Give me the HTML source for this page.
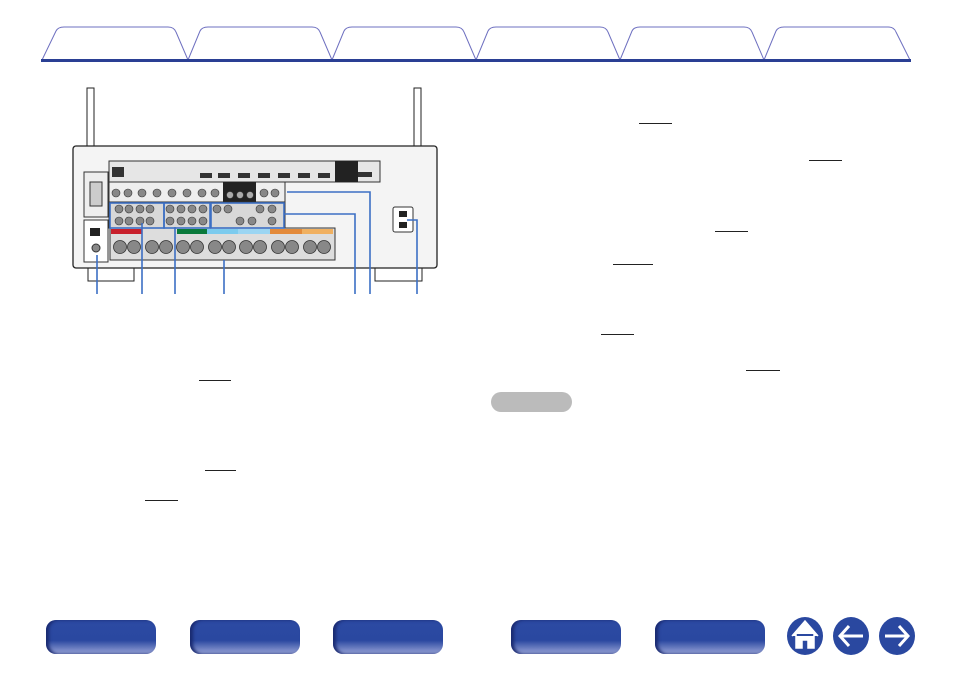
<!DOCTYPE html>
<html><head><meta charset="utf-8"><style>
html,body{margin:0;padding:0;background:#fff;width:954px;height:673px;overflow:hidden;font-family:"Liberation Sans",sans-serif}
.u{position:absolute;height:1px;background:#222}
.b{position:absolute;top:620px;height:34px;border-radius:10px;background:linear-gradient(#2c4aa3,#2a48a0 60%,#9aa5d8);box-shadow:inset 3px 0 3px #1a2a70}
</style></head><body>
<svg width="954" height="673" style="position:absolute;left:0;top:0">
<g fill="none" stroke="#6e70c0" stroke-width="1">
<path d="M42 60 L56 31 Q58 27 64 27 L168 27 Q174 27 176 32 L188 60"/>
<path d="M188 60 L200 31 Q202 27 208 27 L312 27 Q318 27 320 32 L332 60"/>
<path d="M332 60 L344 31 Q346 27 352 27 L456 27 Q462 27 464 32 L476 60"/>
<path d="M476 60 L488 31 Q490 27 496 27 L600 27 Q606 27 608 32 L620 60"/>
<path d="M620 60 L632 31 Q634 27 640 27 L744 27 Q750 27 752 32 L764 60"/>
<path d="M764 60 L776 31 Q778 27 784 27 L888 27 Q894 27 896 32 L910 60"/>
</g>
<rect x="41" y="59" width="870" height="3" fill="#2a3f94"/>
<rect x="87" y="88" width="7" height="74" fill="#fff" stroke="#222"/>
<rect x="87" y="150" width="7" height="12" fill="#555"/>
<rect x="414" y="88" width="7" height="74" fill="#fff" stroke="#222"/>
<rect x="414" y="150" width="7" height="12" fill="#555"/>
<rect x="88" y="268" width="46" height="13" fill="#fff" stroke="#222"/>
<rect x="375" y="268" width="47" height="13" fill="#fff" stroke="#222"/>
<rect x="73" y="146" width="364" height="122" rx="3" fill="#f4f4f4" stroke="#222" stroke-width="1.3"/>
<rect x="109" y="161" width="271" height="21" fill="#e6e6e6" stroke="#333"/>
<g fill="#333">
<rect x="200" y="173" width="12" height="5"/><rect x="218" y="173" width="12" height="5"/><rect x="238" y="173" width="12" height="5"/>
<rect x="258" y="173" width="12" height="5"/><rect x="278" y="173" width="12" height="5"/><rect x="298" y="173" width="12" height="5"/><rect x="318" y="173" width="12" height="5"/>
<rect x="112" y="167" width="12" height="10"/><rect x="358" y="172" width="14" height="5"/>
</g>
<rect x="335" y="161" width="23" height="21" fill="#222"/>
<rect x="109" y="182" width="176" height="20" fill="#eee" stroke="#333"/>
<rect x="223" y="182" width="33" height="20" fill="#222"/>
<rect x="109" y="202" width="176" height="26" fill="#d8d8d8" stroke="#333"/>
<rect x="110" y="228" width="225" height="32" fill="#ddd" stroke="#333"/>
<rect x="111" y="229" width="31" height="5" fill="#c8202c"/>
<rect x="177" y="229" width="30" height="5" fill="#0a7a3c"/>
<rect x="207" y="229" width="31" height="5" fill="#7ccbee"/>
<rect x="238" y="229" width="32" height="5" fill="#9bd5f2"/>
<rect x="270" y="229" width="32" height="5" fill="#e38a3a"/>
<rect x="302" y="229" width="31" height="5" fill="#f0b060"/>
<g fill="#888" stroke="#333" stroke-width="0.8">
<circle cx="120" cy="247" r="6.5"/><circle cx="134" cy="247" r="6.5"/><circle cx="152" cy="247" r="6.5"/><circle cx="166" cy="247" r="6.5"/>
<circle cx="183" cy="247" r="6.5"/><circle cx="197" cy="247" r="6.5"/><circle cx="215" cy="247" r="6.5"/><circle cx="229" cy="247" r="6.5"/>
<circle cx="246" cy="247" r="6.5"/><circle cx="260" cy="247" r="6.5"/><circle cx="278" cy="247" r="6.5"/><circle cx="292" cy="247" r="6.5"/>
<circle cx="310" cy="247" r="6.5"/><circle cx="324" cy="247" r="6.5"/>
</g>
<g fill="#888" stroke="#333" stroke-width="0.6">
<circle cx="119" cy="209" r="4"/><circle cx="129" cy="209" r="4"/><circle cx="140" cy="209" r="4"/><circle cx="150" cy="209" r="4"/>
<circle cx="119" cy="221" r="4"/><circle cx="129" cy="221" r="4"/><circle cx="140" cy="221" r="4"/><circle cx="150" cy="221" r="4"/>
<circle cx="170" cy="209" r="4"/><circle cx="181" cy="209" r="4"/><circle cx="192" cy="209" r="4"/><circle cx="203" cy="209" r="4"/>
<circle cx="170" cy="221" r="4"/><circle cx="181" cy="221" r="4"/><circle cx="192" cy="221" r="4"/><circle cx="203" cy="221" r="4"/>
<circle cx="217" cy="209" r="4"/><circle cx="228" cy="209" r="4"/><circle cx="260" cy="209" r="4"/><circle cx="272" cy="209" r="4"/>
<circle cx="240" cy="221" r="4"/><circle cx="252" cy="221" r="4"/><circle cx="272" cy="221" r="4"/>
<circle cx="116" cy="193" r="4"/><circle cx="128" cy="193" r="4"/><circle cx="142" cy="193" r="4"/><circle cx="157" cy="193" r="4"/>
<circle cx="172" cy="193" r="4"/><circle cx="187" cy="193" r="4"/><circle cx="202" cy="193" r="4"/><circle cx="215" cy="193" r="4"/>
<circle cx="264" cy="193" r="4"/><circle cx="275" cy="193" r="4"/>
<circle cx="230" cy="195" r="3.5" fill="#aaa"/><circle cx="240" cy="195" r="3.5" fill="#aaa"/><circle cx="250" cy="195" r="3.5" fill="#aaa"/>
</g>
<rect x="84" y="172" width="24" height="45" fill="#eee" stroke="#333"/>
<rect x="90" y="182" width="12" height="24" fill="#ccc" stroke="#333"/>
<rect x="84" y="220" width="24" height="42" fill="#fff" stroke="#333"/>
<rect x="90" y="228" width="10" height="8" fill="#222"/>
<circle cx="96" cy="248" r="4" fill="#888" stroke="#333"/>
<rect x="393" y="207" width="20" height="25" rx="2" fill="#fff" stroke="#333"/>
<rect x="399" y="211" width="8" height="6" fill="#222"/><rect x="399" y="222" width="8" height="6" fill="#222"/>
<g fill="none" stroke="#3c6fc4" stroke-width="1.6">
<rect x="110" y="203" width="54" height="25"/>
<rect x="164" y="203" width="46" height="25"/>
<rect x="211" y="203" width="73" height="25"/>
<path d="M97 255 V294"/><path d="M142 223 V294"/><path d="M175 227 V294"/><path d="M224 260 V294"/>
<path d="M284 214 H355 V294"/><path d="M287 192 H370 V294"/><path d="M407 220 H417 V294"/>
</g>
</svg>
<div class="u" style="left:639px;top:123px;width:33px"></div>
<div class="u" style="left:809px;top:160px;width:33px"></div>
<div class="u" style="left:715px;top:231px;width:33px"></div>
<div class="u" style="left:613px;top:264px;width:40px"></div>
<div class="u" style="left:601px;top:334px;width:33px"></div>
<div class="u" style="left:746px;top:370px;width:34px"></div>
<div class="u" style="left:199px;top:380px;width:32px"></div>
<div class="u" style="left:205px;top:470px;width:31px"></div>
<div class="u" style="left:145px;top:500px;width:33px"></div>
<div style="position:absolute;left:491px;top:392px;width:81px;height:20px;border-radius:10px;background:#bbb"></div>
<div class="b" style="left:46px;width:110px"></div>
<div class="b" style="left:190px;width:110px"></div>
<div class="b" style="left:333px;width:110px"></div>
<div class="b" style="left:511px;width:110px"></div>
<div class="b" style="left:655px;width:110px"></div>
<svg width="954" height="673" style="position:absolute;left:0;top:0">
<ellipse cx="805" cy="636" rx="18" ry="19" fill="#2a48a0"/>
<path d="M792 636 L805 621 L818 636 M796 634 V648 H802 V640 H808 V648 H814 V634" fill="#fff" stroke="#fff" stroke-width="1.5"/>
<ellipse cx="851" cy="636" rx="18" ry="19" fill="#2a48a0"/>
<path d="M849 626 L840 636 L849 646 M841 636 H863" fill="none" stroke="#fff" stroke-width="3"/>
<ellipse cx="897" cy="636" rx="18" ry="19" fill="#2a48a0"/>
<path d="M899 626 L908 636 L899 646 M907 636 H885" fill="none" stroke="#fff" stroke-width="3"/>
</svg>
</body></html>
